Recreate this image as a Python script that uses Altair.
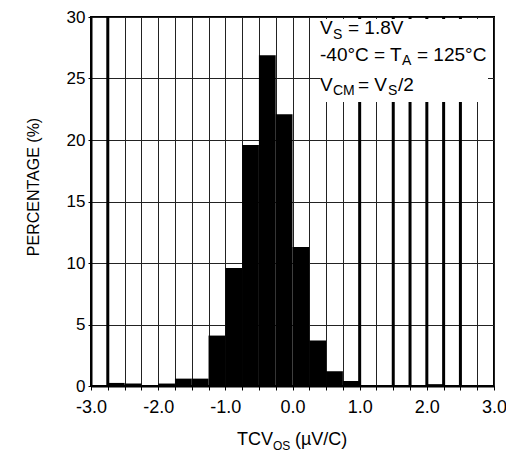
import altair as alt
import pandas as pd

FONT = "Liberation Sans"

# Histogram bins (left edges, width 0.25) and percentages
bin_start = [-3.0, -2.75, -2.5, -2.25, -2.0, -1.75, -1.5, -1.25, -1.0, -0.75, -0.5, -0.25,
             0.0, 0.25, 0.5, 0.75, 1.0, 1.25, 1.5, 1.75, 2.0, 2.25, 2.5, 2.75]
pct = [0.0, 0.25, 0.2, 0.05, 0.2, 0.6, 0.6, 4.1, 9.6, 19.6, 26.9, 22.1,
       11.3, 3.7, 1.2, 0.4, 0.05, 0.0, 0.0, 0.0, 0.15, 0.0, 0.0, 0.0]
bin_width = 0.25

# heavier grid lines seen in the original
thick_lines = [-2.75, 1.0, 1.5, 1.75, 2.0, 2.25, 2.5]

x_ticks = [-3 + 0.25 * i for i in range(25)]
y_ticks = [0, 5, 10, 15, 20, 25, 30]

df = pd.DataFrame({"start": bin_start, "pct": pct})
df["end"] = df["start"] + bin_width
thick_df = pd.DataFrame({"x": thick_lines})
one = pd.DataFrame({"a": [0]})

xscale = alt.Scale(domain=[-3, 3], nice=False, zero=False)
yscale = alt.Scale(domain=[0, 30], nice=False)

xaxis = alt.Axis(
    values=x_ticks,
    labelExpr="abs(datum.value - round(datum.value)) < 0.001 ? (datum.value < 0 ? '-' : '') + format(abs(datum.value), '.1f') : ''",
    labelFont=FONT, labelFontSize=18, labelColor="black",
    labelOverlap=False, labelFlush=False, labelBound=False,
    labelPadding=8, tickSize=4, tickColor="black", tickWidth=1,
    domainColor="black", domainWidth=2,
    grid=True, gridColor="#222", gridWidth=1, title=None,
)
yaxis = alt.Axis(
    values=y_ticks, format="d",
    labelFont=FONT, labelFontSize=17, labelColor="black", labelPadding=3,
    tickSize=3, tickColor="black", domainColor="black", domainWidth=2,
    grid=True, gridColor="#222", gridWidth=1, title=None,
)

rules = alt.Chart(thick_df).mark_rule(color="black", strokeWidth=3).encode(
    x=alt.X("x:Q", scale=xscale, axis=xaxis)
)

bars = alt.Chart(df).mark_rect(color="black").encode(
    x=alt.X("start:Q", scale=xscale, axis=xaxis),
    x2="end:Q",
    y=alt.Y("pct:Q", scale=yscale, axis=yaxis),
    y2=alt.datum(0),
)

box = alt.Chart(one).mark_rect(color="white").encode(
    x=alt.value(229), x2=alt.value(397), y=alt.value(2), y2=alt.value(85)
)


def label(s, x, y, size, angle=0, align="left", baseline="alphabetic"):
    return alt.Chart(one).mark_text(
        text=s, align=align, baseline=baseline, font=FONT,
        fontSize=size, color="black", angle=angle
    ).encode(x=alt.value(x), y=alt.value(y))


MAIN = 19
SUB = 14
texts = [
    # V_S = 1.8V
    label("V", 229, 17, MAIN),
    label("S", 242, 21.5, SUB),
    label("= 1.8V", 257, 17, MAIN),
    # -40°C = T_A = 125°C
    label("-40°C = T", 229, 43.5, MAIN),
    label("A", 311, 48, SUB),
    label("= 125°C", 326, 43.5, MAIN),
    # V_CM = V_S/2
    label("V", 229, 73.5, MAIN),
    label("CM", 242, 78, SUB),
    label("= V", 267, 73.5, MAIN),
    label("S", 297, 78, SUB),
    label("/2", 307, 73.5, MAIN),
    # x-axis title: TCV_OS (µV/C)
    label("TCV", 146, 428, 18),
    label("OS", 182, 432.5, 12),
    label("(µV/C)", 204, 428, 18),
    # y-axis title
    label("PERCENTAGE (%)", -57, 170, 16, angle=270, align="center", baseline="middle"),
]

chart = alt.layer(rules, bars, box, *texts).properties(
    width=403, height=369,
    autosize=alt.AutoSizeParams(type="none"),
    padding={"left": 83, "top": 9, "right": 12, "bottom": 66},
).configure_view(stroke="black", strokeWidth=2)

chart.save("out.html", embed_options={"renderer": "svg", "actions": False})
